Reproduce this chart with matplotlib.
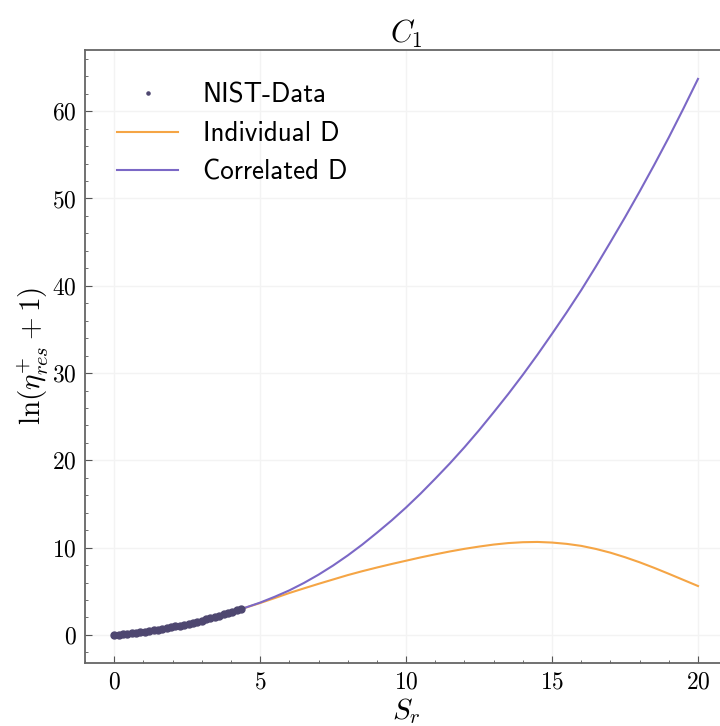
import os
import matplotlib
matplotlib.use('Agg')
import matplotlib.pyplot as plt
from matplotlib.ticker import MultipleLocator
from matplotlib import font_manager

# NIST points (S_r, ln(eta+1))
nist_x = [0.0, 0.15, 0.3, 0.45, 0.6, 0.75, 0.9, 1.05, 1.2, 1.35, 1.5, 1.65, 1.8, 1.95, 2.1,
          2.25, 2.4, 2.55, 2.7, 2.85, 3.0, 3.15, 3.3, 3.45, 3.6, 3.75, 3.9, 4.05, 4.2, 4.35]
nist_y = [0.0, 0.04, 0.08, 0.13, 0.19, 0.24, 0.31, 0.37, 0.44, 0.52, 0.60, 0.68, 0.77, 0.87, 0.97,
          1.07, 1.18, 1.29, 1.40, 1.52, 1.65, 1.78, 1.91, 2.05, 2.20, 2.34, 2.50, 2.65, 2.81, 2.98]

sr = [0, 0.5, 1, 1.5, 2, 2.5, 3, 3.5, 4, 4.5, 5, 5.5, 6, 6.5, 7, 7.5, 8, 8.5, 9, 9.5, 10,
      10.5, 11, 11.5, 12, 12.5, 13, 13.5, 14, 14.5, 15, 15.5, 16, 16.5, 17, 17.5, 18, 18.5,
      19, 19.5, 20]
indiv_d = [0.0, 0.15, 0.35, 0.6, 0.9, 1.22, 1.6, 2.07, 2.6, 3.12, 3.65, 4.22, 4.8, 5.33,
           5.85, 6.35, 6.85, 7.3, 7.72, 8.12, 8.5, 8.88, 9.23, 9.56, 9.86, 10.12, 10.35,
           10.52, 10.62, 10.65, 10.58, 10.43, 10.2, 9.85, 9.42, 8.9, 8.32, 7.68, 7.0, 6.3, 5.6]
corr_d = [0.0, 0.15, 0.35, 0.6, 0.9, 1.22, 1.6, 2.07, 2.6, 3.13, 3.7, 4.37, 5.1, 5.95,
          6.9, 7.95, 9.1, 10.35, 11.7, 13.1, 14.6, 16.2, 17.9, 19.65, 21.5, 23.45, 25.5,
          27.6, 29.8, 32.1, 34.5, 36.95, 39.5, 42.2, 45.0, 47.85, 50.8, 53.85, 57.0, 60.3, 63.7]

plt.rcParams['font.family'] = 'serif'
plt.rcParams['font.serif'] = ['cmr10']
plt.rcParams['mathtext.fontset'] = 'cm'
plt.rcParams['axes.formatter.use_mathtext'] = True

sans = font_manager.FontProperties(
    fname=os.path.join(matplotlib.get_data_path(), 'fonts', 'ttf', 'cmss10.ttf'), size=19.5)

fig = plt.figure(figsize=(7.2, 7.26), dpi=100)
ax = fig.add_axes([0.118, 0.087, 0.892, 0.844])

ax.plot(nist_x, nist_y, '.', color='#4e4770', markersize=10, label='NIST-Data', zorder=3)
ax.plot(sr, indiv_d, color='#f5a545', lw=1.5, label='Individual D')
ax.plot(sr, corr_d, color='#7b68c6', lw=1.5, label='Correlated D')

ax.set_xlim(-1, 21)
ax.set_ylim(-3.2, 67)
ax.xaxis.set_major_locator(MultipleLocator(5))
ax.xaxis.set_minor_locator(MultipleLocator(1))
ax.yaxis.set_major_locator(MultipleLocator(10))
ax.yaxis.set_minor_locator(MultipleLocator(2))
ax.tick_params(which='both', direction='in', top=False, right=False, labelsize=17, color='#555555')
ax.tick_params(which='major', length=5, pad=6)
ax.tick_params(which='minor', length=2.5)
ax.grid(True, color='#f3f3f3', lw=1)
for s in ax.spines.values():
    s.set_color('#666666')
    s.set_linewidth(1.3)

ax.set_title('$C_1$', fontsize=22, pad=3)
ax.set_xlabel('$S_r$', fontsize=21, labelpad=2)
ax.set_ylabel(r'$\ln(\eta^{+}_{res}+1)$', fontsize=21, labelpad=1)

leg = ax.legend(loc='upper left', frameon=False, prop=sans, markerscale=0.45,
                handlelength=2.25, handletextpad=0.9, borderaxespad=0.8,
                labelspacing=0.5)

plt.savefig('out.png')
